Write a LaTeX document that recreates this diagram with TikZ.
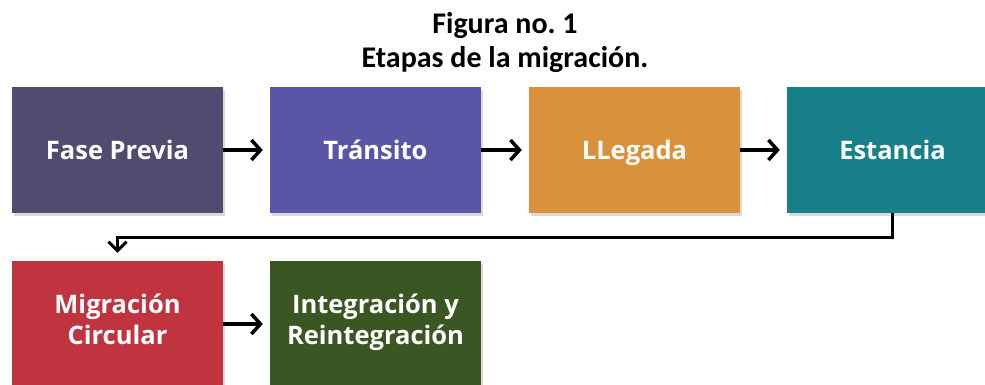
\documentclass[tikz,border=0pt]{standalone}
\usepackage{fontspec}
\setmainfont{Open Sans}
\newfontfamily\titlefont{Carlito}
\usetikzlibrary{arrows.meta,shadows}
\frenchspacing

\definecolor{previa}{HTML}{534A70}
\definecolor{transito}{HTML}{5B55A6}
\definecolor{llegada}{HTML}{DA913C}
\definecolor{estancia}{HTML}{17808A}
\definecolor{circular}{HTML}{C0343F}
\definecolor{integra}{HTML}{3A5623}
\newcommand\etapastrut{\rule[-9pt]{0pt}{36pt}}

\begin{document}
\begin{tikzpicture}[x=1pt,y=-1pt,
  etapa/.style={rectangle,minimum width=211pt,minimum height=126pt,inner sep=0pt,
    align=center,text=white,font=\bfseries\fontsize{25.5}{31}\selectfont,
    execute at begin node=\etapastrut,execute at end node=\etapastrut,
    drop shadow={shadow xshift=2pt,shadow yshift=-3pt,opacity=0.3}},
  flecha/.style={-{Straight Barb[length=9pt,width=20pt,line width=3.5pt]},line width=3.5pt,shorten >=7pt},
  retorno/.style={-{Straight Barb[length=9pt,width=18pt,line width=3pt]},line width=3pt,shorten >=8pt}]
\useasboundingbox (0,0) rectangle (985,385);
% titulo
\node[font=\titlefont\bfseries\fontsize{30}{34}\selectfont,align=center] (titulo) at (505,43) {Figura no. 1\\Etapas de la migración.};
% etapas
\node[etapa,fill=previa] (v1) at (117.5,150) {Fase Previa};
\node[etapa,fill=transito] (v2) at (375.5,150) {Tránsito};
\node[etapa,fill=llegada] (v3) at (634.5,150) {LLegada};
\node[etapa,fill=estancia] (v4) at (892.5,150) {Estancia};
\node[etapa,fill=circular] (v5) at (117.5,324) {Migración\\Circular};
\node[etapa,fill=integra] (v6) at (375.5,324) {Integración y\\Reintegración};
% conectores
\draw[flecha] (v1) -- (v2);
\draw[flecha] (v2) -- (v3);
\draw[flecha] (v3) -- (v4);
\draw[retorno] (v4.south) |- (117.5,237) -- (v5.north);
\draw[flecha] (v5) -- (v6);
\end{tikzpicture}
\end{document}
